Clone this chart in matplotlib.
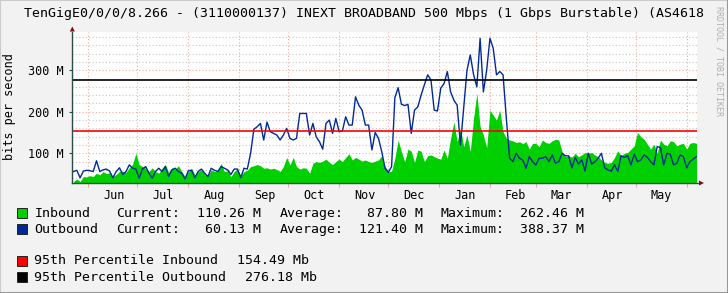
"""Yearly traffic graph (rrdtool style) for TenGigE0/0/0/8.266, redrawn with matplotlib."""
import numpy as np
import matplotlib
matplotlib.use("Agg")
import matplotlib.pyplot as plt
import matplotlib.dates as mdates
from matplotlib.patches import Rectangle, Polygon

W, H = 728, 293
MONO = "DejaVu Sans Mono"

# sampling grid of the series: one value every 2 days from the left edge
START = np.datetime64("2018-05-23")
STEP_DAYS = 2

# traffic in Mbit/s
inbound_m = [
    32, 38, 32, 44, 43, 46, 44, 52, 48, 56, 51, 53, 44, 49, 56, 57,
    54, 65, 73, 100, 73, 68, 64, 56, 65, 56, 52, 64, 73, 54, 65, 62,
    70, 56, 44, 56, 64, 48, 56, 60, 49, 46, 60, 56, 57, 76, 56, 58,
    44, 56, 62, 46, 56, 59, 68, 70, 73, 70, 64, 65, 62, 64, 61, 56,
    68, 90, 72, 90, 68, 62, 65, 64, 52, 76, 80, 78, 81, 86, 78, 73,
    80, 86, 80, 90, 99, 84, 90, 86, 81, 84, 80, 78, 81, 84, 94, 68,
    56, 57, 88, 132, 104, 80, 110, 105, 78, 108, 105, 80, 94, 96, 92, 88,
    86, 108, 88, 136, 175, 128, 160, 116, 144, 104, 184, 245, 164, 144, 113, 204,
    192, 180, 204, 152, 136, 132, 130, 126, 128, 123, 128, 110, 124, 124, 116, 132,
    126, 124, 130, 134, 132, 104, 92, 94, 91, 100, 92, 96, 102, 100, 102, 96,
    92, 84, 78, 76, 78, 90, 106, 94, 100, 102, 110, 118, 150, 140, 134, 122,
    110, 122, 100, 132, 122, 118, 130, 128, 118, 122, 124, 110, 124, 126, 124,
]
outbound_m = [
    56, 59, 41, 57, 59, 58, 56, 82, 56, 60, 62, 57, 41, 56, 65, 49,
    56, 72, 64, 62, 40, 62, 68, 52, 40, 56, 64, 56, 68, 44, 60, 64,
    56, 52, 38, 58, 59, 41, 56, 62, 52, 44, 64, 59, 56, 68, 64, 60,
    49, 62, 62, 41, 64, 62, 100, 158, 164, 172, 132, 175, 152, 148, 144, 132,
    144, 160, 136, 132, 136, 196, 196, 196, 144, 172, 140, 128, 110, 172, 180, 148,
    184, 152, 154, 188, 168, 168, 236, 216, 204, 168, 168, 108, 150, 136, 104, 64,
    54, 68, 234, 258, 218, 215, 218, 148, 204, 212, 240, 265, 289, 277, 204, 202,
    257, 268, 297, 248, 228, 216, 120, 210, 300, 337, 290, 260, 377, 248, 300, 377,
    353, 289, 297, 289, 184, 88, 80, 100, 88, 84, 64, 92, 80, 72, 88, 88,
    92, 80, 96, 76, 80, 100, 94, 94, 65, 90, 74, 84, 57, 100, 74, 80,
    88, 100, 65, 60, 57, 72, 56, 94, 90, 94, 72, 98, 80, 84, 96, 90,
    80, 72, 116, 114, 72, 100, 98, 72, 76, 96, 92, 65, 80, 86, 92,
]
pct95_in = 154.49
pct95_out = 276.18

month_starts = ["2018-06-01", "2018-07-01", "2018-08-01", "2018-09-01",
                "2018-10-01", "2018-11-01", "2018-12-01", "2019-01-01",
                "2019-02-01", "2019-03-01", "2019-04-01", "2019-05-01",
                "2019-06-01"]
month_labels = ["Jun", "Jul", "Aug", "Sep", "Oct", "Nov",
                "Dec", "Jan", "Feb", "Mar", "Apr", "May"]
y_major = [100, 200, 300]
y_labels = ["100 M", "200 M", "300 M"]

title = ("TenGigE0/0/0/8.266 - (3110000137) INEXT BROADBAND 500 Mbps "
         "(1 Gbps Burstable) (AS4618")
series_names = ["Inbound", "Outbound"]
current_vals = ["110.26 M", " 60.13 M"]
average_vals = [" 87.80 M", "121.40 M"]
maximum_vals = ["262.46 M", "388.37 M"]
pct_names = ["95th Percentile Inbound", "95th Percentile Outbound"]
pct_vals = ["154.49 Mb", "276.18 Mb"]

BACK = "#f2f2f2"
GREEN = "#00cf00"
BLUE = "#002a97"
AXIS = "#2c4d43"
ARROW = "#7f1010"
GRID = "#c9c9c9"
MGRID = "#eeaaa6"


def fx(px):
    return px / W


def fy(py):
    return 1 - py / H


fig = plt.figure(figsize=(W / 100, H / 100), dpi=100, facecolor=BACK)
ax = fig.add_axes([fx(72.3), fy(183), (697 - 72.3) / W, (183 - 31.7) / H])
ax.set_facecolor("white")

days = START + np.arange(len(inbound_m)) * np.timedelta64(STEP_DAYS, "D")
x = mdates.date2num(days)
x0 = mdates.date2num(START)
ax.set_xlim(x0 - 0.76, x0 + 380.3)
ax.set_ylim(28.4, 393)

# grid (drawn first, under the data)
for v in range(40, 400, 20):
    if v % 100:
        ax.axhline(v, color=GRID, lw=0.8, ls=(0, (1, 2)), zorder=1)
for v in y_major:
    ax.axhline(v, color=MGRID, lw=0.8, ls=(0, (1, 2)), zorder=1)
ms = mdates.date2num(np.array(month_starts, dtype="datetime64[D]"))
for m in ms:
    ax.axvline(m, color=MGRID, lw=0.8, ls=(0, (1, 2)), zorder=1)

ax.fill_between(x, 0, inbound_m, color=GREEN, lw=0, zorder=2)
ax.plot(x, outbound_m, color=BLUE, lw=1.0, zorder=3)
ax.axhline(pct95_in, color="#ff0000", lw=1.2, zorder=4)
ax.axhline(pct95_out, color="#000000", lw=1.2, zorder=4)

for s in ax.spines.values():
    s.set_visible(False)

ax.set_yticks(y_major)
ax.set_yticklabels(y_labels, family=MONO, fontsize=8.5)
ax.tick_params(axis="y", length=2, width=0.8, color=AXIS, pad=4)
ax.set_xticks(ms)
ax.set_xticklabels([])
ax.tick_params(axis="x", which="major", length=3, width=0.8, color=MGRID)
mid = ms[:-1] + 15.7
ax.set_xticks(mid, minor=True)
ax.set_xticklabels(month_labels, minor=True, family=MONO, fontsize=8.5)
ax.tick_params(axis="x", which="minor", length=0, pad=4)

# axes with arrows, rrdtool style
ax.plot([0, 0], [0, 1.0], transform=ax.transAxes, color=AXIS, lw=1,
        clip_on=False, zorder=5)
ax.plot([0, (700 - 72.3) / (697 - 72.3)], [0, 0], transform=ax.transAxes,
        color=AXIS, lw=1, clip_on=False, zorder=5)
fig.add_artist(Polygon([[fx(69.8), fy(31.5)], [fx(74.8), fy(31.5)], [fx(72.3), fy(26.5)]],
                       closed=True, transform=fig.transFigure, color=ARROW, lw=0))
fig.add_artist(Polygon([[fx(699), fy(180.5)], [fx(699), fy(185.5)], [fx(704), fy(183)]],
                       closed=True, transform=fig.transFigure, color=ARROW, lw=0))

fig.text(fx(24), fy(14), title, family=MONO, fontsize=9.5, ha="left", va="center")
fig.text(fx(10), fy(107), "bits per second", family=MONO, fontsize=8.5,
         rotation=90, ha="center", va="center")
fig.text(fx(719), fy(61), "RRDTOOL / TOBI OETIKER", family=MONO, fontsize=6,
         rotation=270, ha="center", va="center", color="#b0b0b0")

# legend
swatches = [GREEN, BLUE, "#ff0000", "#000000"]
rows_y = [213.3, 229.3, 261, 277.3]
for c, ry in zip(swatches, rows_y):
    fig.add_artist(Rectangle((fx(17.3), fy(ry + 5)), 10 / W, 10 / H,
                             transform=fig.transFigure, facecolor=c,
                             edgecolor="#222222", lw=0.7))
for i in range(2):
    ry = fy(rows_y[i])
    for txt, px in [(series_names[i], 34.3), ("Current:", 116),
                    (current_vals[i], 196.7), ("Average:", 279.3),
                    (average_vals[i], 359.3), ("Maximum:", 441),
                    (maximum_vals[i], 520)]:
        fig.text(fx(px), ry, txt, family=MONO, fontsize=9.5, ha="left", va="center")
for i, vx in enumerate([236.7, 245]):
    ry = fy(rows_y[2 + i])
    fig.text(fx(34.3), ry, pct_names[i], family=MONO, fontsize=9.5, ha="left", va="center")
    fig.text(fx(vx), ry, pct_vals[i], family=MONO, fontsize=9.5, ha="left", va="center")

# 3d-ish frame
fig.add_artist(plt.Line2D([0, 0, 1], [0, 1, 1], transform=fig.transFigure,
                          color="#cbcbcb", lw=1.5))
fig.add_artist(plt.Line2D([0, 1, 1], [0, 0, 1], transform=fig.transFigure,
                          color="#999999", lw=1.5))

fig.savefig("out.png", dpi=100, facecolor=BACK)
